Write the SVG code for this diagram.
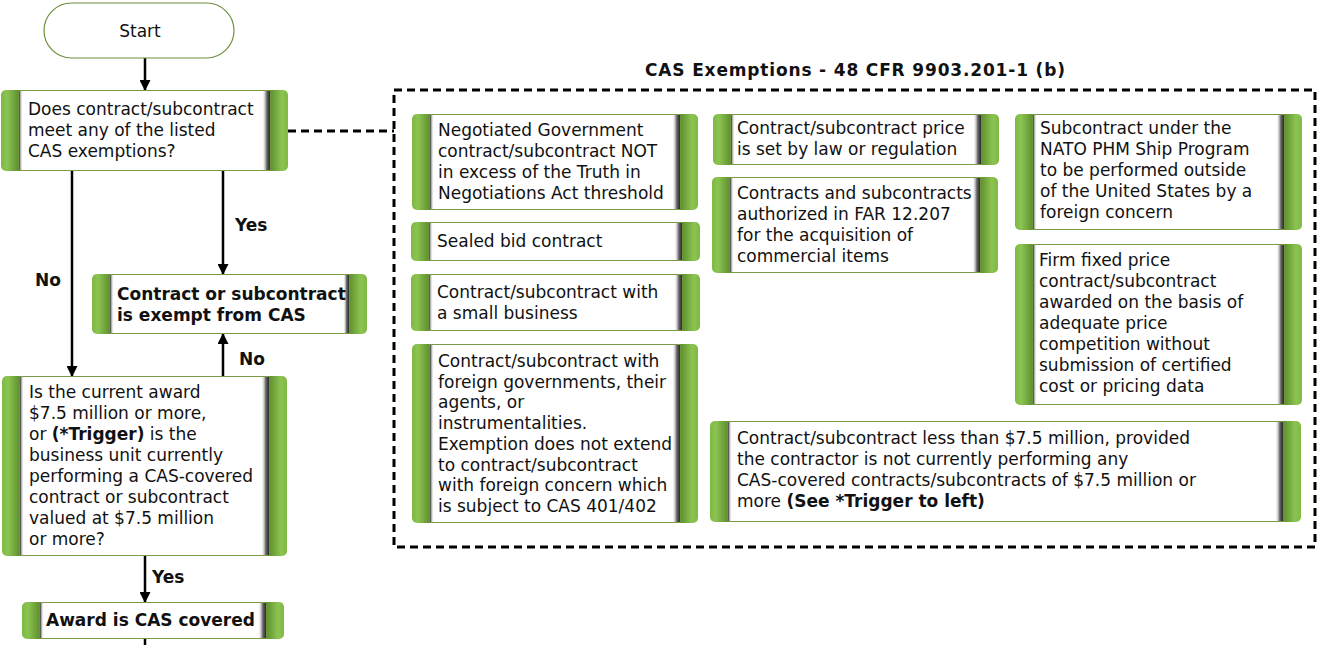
<svg xmlns="http://www.w3.org/2000/svg" width="1317" height="645" viewBox="0 0 1317 645">
<style>
.t{font-family:"DejaVu Sans",Verdana,"Liberation Sans",sans-serif;font-size:17px;fill:#111}
.b{font-weight:bold}
.body{fill:#fff;stroke:#7b9a45;stroke-width:1}
.bl{fill:url(#gl)}
.br{fill:url(#gr)}
.sl{fill:url(#sl)}
.sr{fill:url(#sr)}
.arr{stroke:#000;stroke-width:2.5;fill:none;marker-end:url(#ah)}
.dash{stroke:#000;stroke-width:3;fill:none;stroke-dasharray:8 5}
</style>
<defs>
<linearGradient id="gl" x1="0" y1="0" x2="1" y2="0">
<stop offset="0" stop-color="#7fb843"/><stop offset="0.25" stop-color="#8cc452"/><stop offset="0.75" stop-color="#5d8e2c"/><stop offset="1" stop-color="#5d8e2c"/>
</linearGradient>
<linearGradient id="gr" x1="0" y1="0" x2="1" y2="0">
<stop offset="0" stop-color="#5d8e2c"/><stop offset="0.25" stop-color="#5d8e2c"/><stop offset="0.75" stop-color="#8cc452"/><stop offset="1" stop-color="#7fb843"/>
</linearGradient>
<linearGradient id="sl" x1="0" y1="0" x2="1" y2="0">
<stop offset="0" stop-color="#333"/><stop offset="1" stop-color="#fff" stop-opacity="0"/>
</linearGradient>
<linearGradient id="sr" x1="0" y1="0" x2="1" y2="0">
<stop offset="0" stop-color="#fff" stop-opacity="0"/><stop offset="0.6" stop-color="#666"/><stop offset="1" stop-color="#2a2a2a"/>
</linearGradient>
<marker id="ah" markerUnits="userSpaceOnUse" markerWidth="11" markerHeight="11" refX="10" refY="5.5" orient="auto">
<path d="M0,0 L11,5.5 L0,11 z" fill="#000"/>
</marker>
</defs>

<g id="connectors">
<line class="arr" x1="145" y1="58" x2="145" y2="90"/>
<line class="arr" x1="72" y1="171" x2="72" y2="376"/>
<line class="arr" x1="223" y1="171" x2="223" y2="274"/>
<line class="arr" x1="223" y1="376" x2="223" y2="334"/>
<line class="arr" x1="145" y1="556" x2="145" y2="602"/>
<line x1="145" y1="639" x2="145" y2="645" stroke="#000" stroke-width="2.5"/>
<line class="dash" x1="288" y1="131" x2="394" y2="131"/>
<text class="t b" x="35" y="286">No</text>
<text class="t b" x="235" y="231">Yes</text>
<text class="t b" x="239" y="365">No</text>
<text class="t b" x="152" y="583">Yes</text>
</g>

<g id="start">
<rect x="44" y="3" width="190" height="55" rx="27.5" fill="#fff" stroke="#6e8f3c" stroke-width="1.2"/>
<text class="t" x="140" y="37" text-anchor="middle" font-size="17.5">Start</text>
</g>

<g id="q1">
<rect class="bl" x="1" y="90" width="24" height="81" rx="5"/>
<rect class="br" x="264" y="90" width="24" height="81" rx="5"/>
<rect class="body" x="19" y="90.5" width="251" height="80"/>
<rect class="sl" x="19" y="91" width="4" height="79"/>
<rect class="sr" x="262" y="91" width="8" height="79"/>
<text class="t" x="28" y="115">Does contract/subcontract</text>
<text class="t" x="28" y="136">meet any of the listed</text>
<text class="t" x="28" y="157">CAS exemptions?</text>
</g>

<g id="exempt">
<rect class="bl" x="92" y="274" width="24" height="60" rx="5"/>
<rect class="br" x="343" y="274" width="24" height="60" rx="5"/>
<rect class="body" x="110" y="274.5" width="239" height="59"/>
<rect class="sl" x="110" y="275" width="4" height="58"/>
<rect class="sr" x="343" y="275" width="6" height="58"/>
<text class="t b" x="117" y="300">Contract or subcontract</text>
<text class="t b" x="117" y="321">is exempt from CAS</text>
</g>

<g id="q2">
<rect class="bl" x="2" y="376" width="24" height="180" rx="5"/>
<rect class="br" x="263" y="376" width="24" height="180" rx="5"/>
<rect class="body" x="20" y="376.5" width="249" height="179"/>
<rect class="sl" x="20" y="377" width="4" height="178"/>
<rect class="sr" x="261" y="377" width="8" height="178"/>
<text class="t" x="29" y="398">Is the current award</text>
<text class="t" x="29" y="419">$7.5 million or more,</text>
<text class="t" x="29" y="440">or <tspan class="b">(*Trigger)</tspan> is the</text>
<text class="t" x="29" y="461">business unit currently</text>
<text class="t" x="29" y="482">performing a CAS-covered</text>
<text class="t" x="29" y="503">contract or subcontract</text>
<text class="t" x="29" y="524">valued at $7.5 million</text>
<text class="t" x="29" y="545">or more?</text>
</g>

<g id="award">
<rect class="bl" x="22" y="602" width="24" height="37" rx="5"/>
<rect class="br" x="260" y="602" width="24" height="37" rx="5"/>
<rect class="body" x="40" y="602.5" width="226" height="36"/>
<rect class="sl" x="40" y="603" width="4" height="35"/>
<rect class="sr" x="258" y="603" width="8" height="35"/>
<text class="t b" x="46" y="626">Award is CAS covered</text>
</g>

<g id="exemptions">
<text class="t b" x="645" y="76" font-size="17.5" textLength="420">CAS Exemptions - 48 CFR 9903.201-1 (b)</text>
<rect class="dash" x="394" y="90" width="921" height="457"/>
</g>

<g id="ex-negotiated">
<rect class="bl" x="412" y="114" width="24" height="96" rx="5"/>
<rect class="br" x="674" y="114" width="24" height="96" rx="5"/>
<rect class="body" x="430" y="114.5" width="250" height="95"/>
<rect class="sl" x="430" y="115" width="4" height="94"/>
<rect class="sr" x="672" y="115" width="8" height="94"/>
<text class="t" x="438" y="136">Negotiated Government</text>
<text class="t" x="438" y="157">contract/subcontract NOT</text>
<text class="t" x="438" y="178">in excess of the Truth in</text>
<text class="t" x="438" y="199">Negotiations Act threshold</text>
</g>

<g id="ex-sealed">
<rect class="bl" x="411" y="222" width="24" height="39" rx="5"/>
<rect class="br" x="676" y="222" width="24" height="39" rx="5"/>
<rect class="body" x="429" y="222.5" width="253" height="38"/>
<rect class="sl" x="429" y="223" width="4" height="37"/>
<rect class="sr" x="674" y="223" width="8" height="37"/>
<text class="t" x="437" y="247">Sealed bid contract</text>
</g>

<g id="ex-small">
<rect class="bl" x="411" y="274" width="24" height="57" rx="5"/>
<rect class="br" x="676" y="274" width="24" height="57" rx="5"/>
<rect class="body" x="429" y="274.5" width="253" height="56"/>
<rect class="sl" x="429" y="275" width="4" height="55"/>
<rect class="sr" x="674" y="275" width="8" height="55"/>
<text class="t" x="437" y="298">Contract/subcontract with</text>
<text class="t" x="437" y="319">a small business</text>
</g>

<g id="ex-foreign">
<rect class="bl" x="412" y="344" width="24" height="179" rx="5"/>
<rect class="br" x="674" y="344" width="24" height="179" rx="5"/>
<rect class="body" x="430" y="344.5" width="250" height="178"/>
<rect class="sl" x="430" y="345" width="4" height="177"/>
<rect class="sr" x="672" y="345" width="8" height="177"/>
<text class="t" x="438" y="367">Contract/subcontract with</text>
<text class="t" x="438" y="388">foreign governments, their</text>
<text class="t" x="438" y="408">agents, or</text>
<text class="t" x="438" y="429">instrumentalities.</text>
<text class="t" x="438" y="450">Exemption does not extend</text>
<text class="t" x="438" y="471">to contract/subcontract</text>
<text class="t" x="438" y="491">with foreign concern which</text>
<text class="t" x="438" y="512">is subject to CAS 401/402</text>
</g>

<g id="ex-price">
<rect class="bl" x="713" y="114" width="24" height="51" rx="5"/>
<rect class="br" x="975" y="114" width="24" height="51" rx="5"/>
<rect class="body" x="731" y="114.5" width="250" height="50"/>
<rect class="sl" x="731" y="115" width="4" height="49"/>
<rect class="sr" x="973" y="115" width="8" height="49"/>
<text class="t" x="737" y="134">Contract/subcontract price</text>
<text class="t" x="737" y="155">is set by law or regulation</text>
</g>

<g id="ex-commercial">
<rect class="bl" x="712" y="177" width="24" height="96" rx="5"/>
<rect class="br" x="974" y="177" width="24" height="96" rx="5"/>
<rect class="body" x="730" y="177.5" width="250" height="95"/>
<rect class="sl" x="730" y="178" width="4" height="94"/>
<rect class="sr" x="972" y="178" width="8" height="94"/>
<text class="t" x="737" y="199">Contracts and subcontracts</text>
<text class="t" x="737" y="220">authorized in FAR 12.207</text>
<text class="t" x="737" y="241">for the acquisition of</text>
<text class="t" x="737" y="262">commercial items</text>
</g>

<g id="ex-nato">
<rect class="bl" x="1015" y="114" width="24" height="116" rx="5"/>
<rect class="br" x="1278" y="114" width="24" height="116" rx="5"/>
<rect class="body" x="1033" y="114.5" width="251" height="115"/>
<rect class="sl" x="1033" y="115" width="4" height="114"/>
<rect class="sr" x="1276" y="115" width="8" height="114"/>
<text class="t" x="1040" y="134">Subcontract under the</text>
<text class="t" x="1040" y="155">NATO PHM Ship Program</text>
<text class="t" x="1040" y="176">to be performed outside</text>
<text class="t" x="1040" y="197">of the United States by a</text>
<text class="t" x="1040" y="218">foreign concern</text>
</g>

<g id="ex-ffp">
<rect class="bl" x="1015" y="244" width="24" height="161" rx="5"/>
<rect class="br" x="1278" y="244" width="24" height="161" rx="5"/>
<rect class="body" x="1033" y="244.5" width="251" height="160"/>
<rect class="sl" x="1033" y="245" width="4" height="159"/>
<rect class="sr" x="1276" y="245" width="8" height="159"/>
<text class="t" x="1039" y="266">Firm fixed price</text>
<text class="t" x="1039" y="287">contract/subcontract</text>
<text class="t" x="1039" y="308">awarded on the basis of</text>
<text class="t" x="1039" y="329">adequate price</text>
<text class="t" x="1039" y="350">competition without</text>
<text class="t" x="1039" y="371">submission of certified</text>
<text class="t" x="1039" y="392">cost or pricing data</text>
</g>

<g id="ex-threshold">
<rect class="bl" x="710" y="421" width="24" height="101" rx="5"/>
<rect class="br" x="1277" y="421" width="24" height="101" rx="5"/>
<rect class="body" x="728" y="421.5" width="555" height="100"/>
<rect class="sl" x="728" y="422" width="4" height="99"/>
<rect class="sr" x="1275" y="422" width="8" height="99"/>
<text class="t" x="737" y="444">Contract/subcontract less than $7.5 million, provided</text>
<text class="t" x="737" y="465">the contractor is not currently performing any</text>
<text class="t" x="737" y="486">CAS-covered contracts/subcontracts of $7.5 million or</text>
<text class="t" x="737" y="507">more <tspan class="b">(See *Trigger to left)</tspan></text>
</g>
</svg>
